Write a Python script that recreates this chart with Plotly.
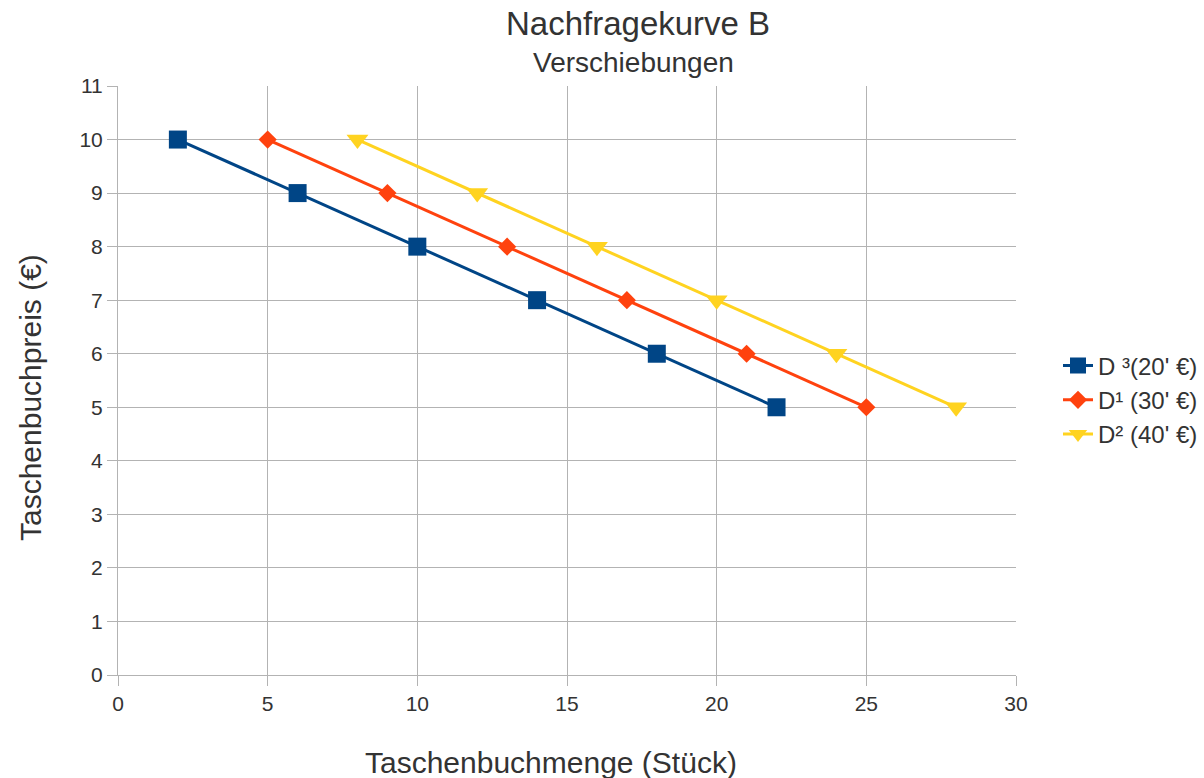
import plotly.graph_objects as go

prices = [10, 9, 8, 7, 6, 5]
d3_qty = [2, 6, 10, 14, 18, 22]
d1_qty = [5, 9, 13, 17, 21, 25]
d2_qty = [8, 12, 16, 20, 24, 28]
names = ["D ³(20' €)", "D¹ (30' €)", "D² (40' €)"]
colors = ["#004586", "#ff420e", "#ffd320"]

fig = go.Figure()
fig.add_trace(go.Scatter(x=d3_qty, y=prices, name=names[0], mode="lines+markers",
                         line=dict(color=colors[0], width=3),
                         marker=dict(symbol="square", size=18, color=colors[0])))
fig.add_trace(go.Scatter(x=d1_qty, y=prices, name=names[1], mode="lines+markers",
                         line=dict(color=colors[1], width=3),
                         marker=dict(symbol="diamond", size=14, color=colors[1])))
fig.add_trace(go.Scatter(x=d2_qty, y=prices, name=names[2], mode="lines+markers",
                         line=dict(color=colors[2], width=3),
                         marker=dict(symbol="triangle-down", size=19, color=colors[2])))

font = "Liberation Sans, Arial, sans-serif"
fig.update_layout(
    width=1204, height=778,
    margin=dict(l=118, r=188, t=86, b=103, autoexpand=False),
    paper_bgcolor="white", plot_bgcolor="white",
    font=dict(family=font, color="#333333"),
    showlegend=True,
    legend=dict(x=(1058 - 118) / 898, xanchor="left", y=(675 - 400) / 589, yanchor="middle",
                font=dict(size=24, color="#333333"), itemwidth=30,
                tracegroupgap=0),
)
fig.add_annotation(text="Nachfragekurve B", xref="paper", yref="paper",
                   x=(638 - 118) / 898, y=(675 - 24) / 589, xanchor="center", yanchor="middle",
                   showarrow=False, font=dict(size=33, color="#333333", family=font))
fig.add_annotation(text="Verschiebungen", xref="paper", yref="paper",
                   x=(633 - 118) / 898, y=(675 - 62) / 589, xanchor="center", yanchor="middle",
                   showarrow=False, font=dict(size=28, color="#333333", family=font))
fig.add_annotation(text="Taschenbuchmenge (Stück)", xref="paper", yref="paper",
                   x=(551 - 118) / 898, y=(675 - 762) / 589, xanchor="center", yanchor="middle",
                   showarrow=False, font=dict(size=30, color="#333333", family=font))
fig.add_annotation(text="Taschenbuchpreis (€)", xref="paper", yref="paper", textangle=-90,
                   x=(30 - 118) / 898, y=(675 - 398) / 589, xanchor="center", yanchor="middle",
                   showarrow=False, font=dict(size=30, color="#333333", family=font))

fig.update_xaxes(range=[0, 30], dtick=5, showgrid=True, gridcolor="#b3b3b3", gridwidth=1,
                 showline=True, linecolor="#b3b3b3", ticks="outside", ticklen=10,
                 tickcolor="#b3b3b3", zeroline=False,
                 tickfont=dict(size=21, color="#333333"))
fig.update_yaxes(range=[0, 11], dtick=1, showgrid=True, gridcolor="#b3b3b3", gridwidth=1,
                 showline=True, linecolor="#b3b3b3", ticks="outside", ticklen=10,
                 tickcolor="#b3b3b3", zeroline=False,
                 tickfont=dict(size=21, color="#333333"))

fig.write_html("out.html")
